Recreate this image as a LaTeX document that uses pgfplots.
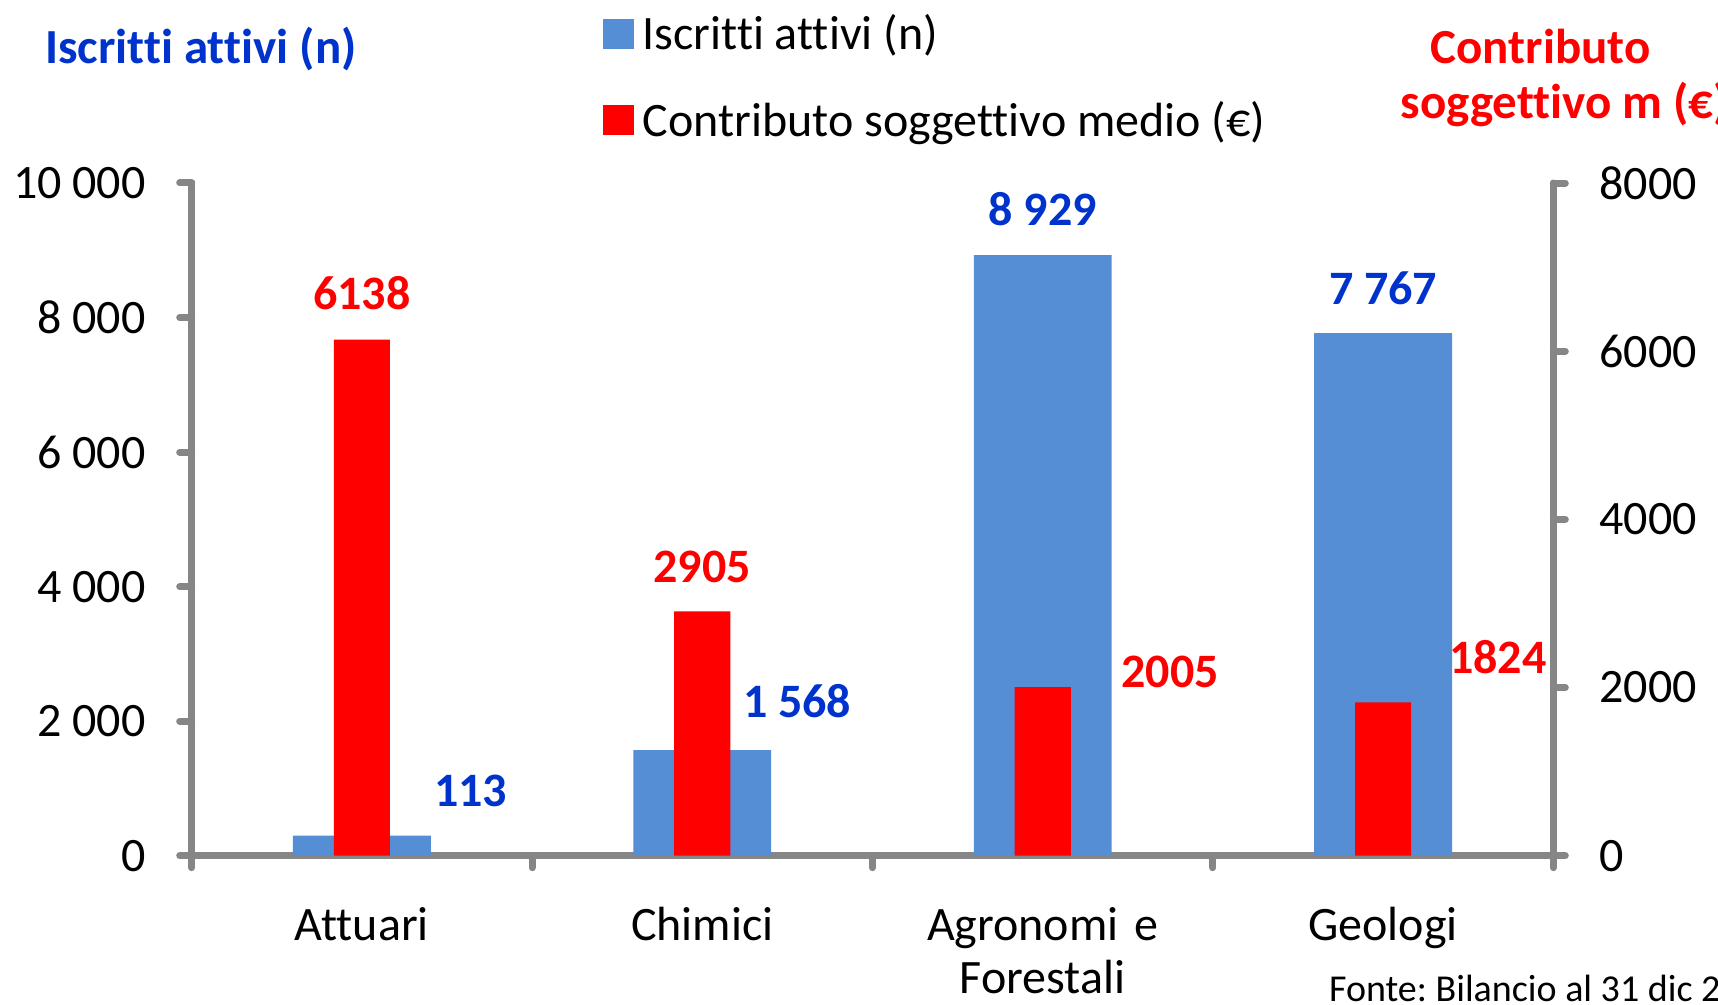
\documentclass[border=0pt]{standalone}
\usepackage{fontspec}
\setmainfont{Carlito}[Ligatures=NoCommon]
\usepackage{pgfplots}
\pgfplotsset{compat=1.18}
\usepackage{pgfplotstable}
\definecolor{barblue}{RGB}{85,142,213}
\definecolor{lblblue}{RGB}{0,51,204}
\definecolor{axgray}{RGB}{134,134,134}
\frenchspacing

\pgfplotstableread{
x y label dx dy
0 300 113 54.45 22.3
1 1568 {1 568} 47.4 24.5
2 8929 {8 929} 0 22.9
3 7767 {7 767} 0 22.5
}\iscritti
\pgfplotstableread{
x y label dx dy
0 6138 6138 0 23
1 2905 2905 0 22.45
2 2005 2005 63.7 7.5
3 1824 1824 57.35 22.4
}\contributo

\pgfplotsset{
 mybase/.style={
  scale only axis, width=680.8pt, height=336.35pt,
  at={(95.85pt,74.65pt)}, anchor=south west,
  xmin=-0.5, xmax=3.5, ymin=0,
  enlargelimits=false, clip=false,
  scaled y ticks=false,
  axis line style={draw=axgray, line width=3.5pt, line cap=round},
  tick align=outside,
  major tick length=6pt, minor tick length=6pt,
  tick style={draw=axgray, line width=3.5pt, line cap=round},
  ticklabel style={font=\fontsize{24}{26.5}\selectfont, text=black},
  ybar, bar shift=0pt,
  nodes near coords, point meta=explicit symbolic,
  visualization depends on={\thisrow{dx} \as \dx},
  visualization depends on={\thisrow{dy} \as \dy},
  every node near coord/.append style={anchor=center, xshift=\dx pt, yshift=\dy pt, font=\bfseries\fontsize{24}{26.5}\selectfont},
 }
}

\begin{document}
\begin{tikzpicture}[font=\fontsize{24}{26.5}\selectfont]
\useasboundingbox (0,0) rectangle (859pt,502.5pt);
\clip (0,0) rectangle (859pt,502.5pt);
\begin{axis}[mybase, ymax=10000,
 axis x line*=bottom, axis y line*=left,
 xtick={0,1,2,3}, xticklabels={Attuari,Chimici,{\mbox{Agronomi e}\\Forestali},Geologi},
 minor xtick={-0.5,0.5,1.5,2.5,3.5},
 major x tick style={draw=none},
 xticklabel style={anchor=base, text width=200pt, align=center, yshift=-36.2pt},
 ytick={0,2000,4000,6000,8000,10000}, yticklabels={0,2 000,4 000,6 000,8 000,10 000},
 yticklabel style={xshift=-13.5pt},
 bar width=0.405,
 every node near coord/.append style={text=lblblue},
 legend style={at={(axis description cs:0.3021,1.2483)}, anchor=north west, draw=none, fill=none,
   inner sep=0pt, outer sep=0pt, row sep=20.25pt, column sep=4.35pt,
   nodes={inner sep=0pt, text height=17pt, text depth=6pt},
   font=\fontsize{24}{26.5}\selectfont},
 legend cell align=left,
 legend image code/.code={\fill[#1] (0pt,-5pt) rectangle (15.5pt,10pt);},
]
\addplot[fill=barblue, draw=none] table[x=x,y=y,meta=label]{\iscritti};
\addlegendentry{Iscritti attivi (n)}
\addlegendimage{fill=red, draw=none}
\addlegendentry{Contributo soggettivo medio (€)}
\end{axis}
\begin{axis}[mybase, ymax=8000,
 axis x line=none, axis y line*=right,
 ytick={0,2000,4000,6000,8000}, yticklabels={0,2000,4000,6000,8000},
 yticklabel style={xshift=13.5pt},
 bar width=0.165,
 every node near coord/.append style={text=red},
]
\addplot[fill=red, draw=none] table[x=x,y=y,meta=label]{\contributo};
\end{axis}
\node[anchor=base west, text=lblblue, font=\bfseries\fontsize{24.5}{26.5}\selectfont] at (19pt,470.85pt) {Iscritti attivi (n)};
\node[anchor=base west, text=red, font=\bfseries\fontsize{24.5}{26.5}\selectfont] at (711.75pt,470.85pt) {Contributo};
\node[anchor=base west, text=red, font=\bfseries\fontsize{24.5}{26.5}\selectfont] at (696.75pt,443.35pt) {soggettivo m (€)};
\node[anchor=base west, font=\fontsize{19}{22}\selectfont] at (661pt,1.5pt) {Fonte: Bilancio al 31 dic 2013};
\end{tikzpicture}
\end{document}
